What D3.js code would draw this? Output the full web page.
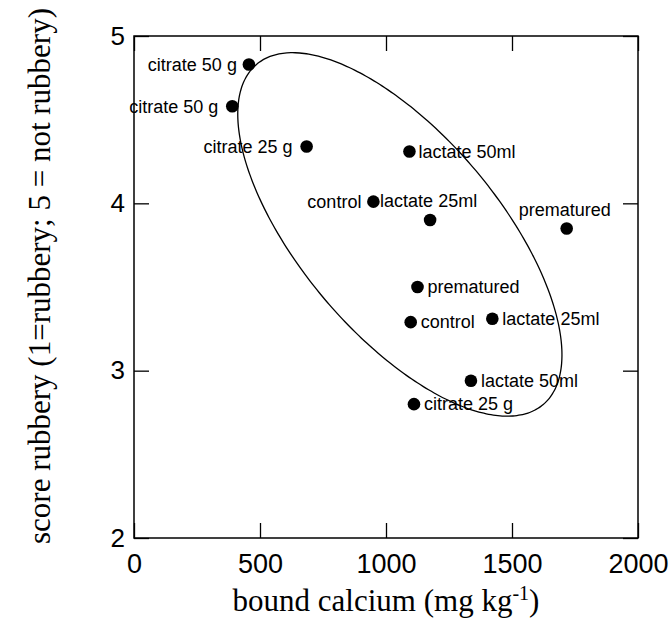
<!DOCTYPE html>
<html>
<head>
<meta charset="utf-8">
<script src="https://cdn.jsdelivr.net/npm/d3@7"></script>
<style>
	body { margin: 0; background: #fff; }
	svg { display: block; }
</style>
</head>
<body>
<svg id="rubbery" width="672" height="619"></svg>
<script>

// data
const treatment = ["citrate 50 g", "citrate 50 g", "citrate 25 g", "control", "lactate 50ml", "lactate 25ml",
	"prematured", "prematured", "control", "lactate 25ml", "lactate 50ml", "citrate 25 g"];
const bound_calcium = [456, 390, 685, 950, 1093, 1175, 1717, 1125, 1098, 1422, 1337, 1111];
const score_rubbery = [4.83, 4.58, 4.34, 4.01, 4.31, 3.90, 3.85, 3.50, 3.29, 3.31, 2.94, 2.80];

const x_ticks = [0, 500, 1000, 1500, 2000];
const y_ticks = [2, 3, 4, 5];

// ellipse in data units: centre and two conjugate semi-axes
const ellipse_center = [1055, 3.814];
const ellipse_major = [569, -1.016];
const ellipse_minor = [-300, -0.384];

// where each label sits relative to its dot
const label_place = [
	["end", -12, 0], ["end", -14, 0], ["end", -14, 0], ["end", -12, 0],
	["start", 9, 0], ["start", -50, -19], ["middle", -2, -19], ["start", 10, 0],
	["start", 10, 0], ["start", 10, 0], ["start", 10, 0], ["start", 10, 0]
];

const svg = d3.select("#rubbery");
const margin = {top: 36, left: 134, right: 34, bottom: 81};
const width = 672 - margin.left - margin.right;
const height = 619 - margin.top - margin.bottom;

const x = d3.scaleLinear().domain([0, 2000]).range([0, width]);
const y = d3.scaleLinear().domain([2, 5]).range([height, 0]);

const g = svg.append("g")
	.attr("transform", "translate(" + margin.left + "," + margin.top + ")");

const tick_font = "'Liberation Sans', Arial, sans-serif";
const title_font = "'Liberation Serif', 'Times New Roman', serif";

// axes with inward ticks
const xb = g.append("g")
	.attr("transform", "translate(0," + height + ")")
	.call(d3.axisBottom(x).tickValues(x_ticks).tickFormat(d3.format("d"))
		.tickSizeInner(-15).tickSizeOuter(0).tickPadding(16));
const xt = g.append("g")
	.call(d3.axisTop(x).tickValues(x_ticks).tickSizeInner(-15).tickSizeOuter(0).tickFormat(""));
const yl = g.append("g")
	.call(d3.axisLeft(y).tickValues(y_ticks).tickFormat(d3.format("d"))
		.tickSizeInner(-15).tickSizeOuter(0).tickPadding(9));
const yr = g.append("g")
	.attr("transform", "translate(" + width + ",0)")
	.call(d3.axisRight(y).tickValues(y_ticks).tickSizeInner(-15).tickSizeOuter(0).tickFormat(""));

[xb, xt, yl, yr].forEach(a => {
	a.select(".domain").remove();
	a.selectAll("line").attr("stroke", "#000").attr("stroke-width", 1.3);
	a.selectAll("text")
		.attr("fill", "#000")
		.style("font-family", tick_font);
});
xb.selectAll("text").style("font-size", "27px");
yl.selectAll("text").style("font-size", "26px");

g.append("rect")
	.attr("width", width)
	.attr("height", height)
	.attr("fill", "none")
	.attr("stroke", "#000")
	.attr("stroke-width", 1.5);

// ellipse
const ellipse_pts = d3.range(0, 360, 2).map(deg => {
	const t = deg * Math.PI / 180;
	return [
		ellipse_center[0] + Math.cos(t) * ellipse_major[0] + Math.sin(t) * ellipse_minor[0],
		ellipse_center[1] + Math.cos(t) * ellipse_major[1] + Math.sin(t) * ellipse_minor[1]
	];
});
g.append("path")
	.attr("d", d3.line().x(d => x(d[0])).y(d => y(d[1])).curve(d3.curveCardinalClosed)(ellipse_pts))
	.attr("fill", "none")
	.attr("stroke", "#000")
	.attr("stroke-width", 1.3);

// dots
const idx = d3.range(treatment.length);
g.selectAll(".dot")
	.data(idx)
	.enter().append("circle")
	.classed("dot", true)
	.attr("cx", i => x(bound_calcium[i]))
	.attr("cy", i => y(score_rubbery[i]))
	.attr("r", 6.3)
	.attr("fill", "#000");

g.selectAll(".point-label")
	.data(idx)
	.enter().append("text")
	.classed("point-label", true)
	.attr("x", i => x(bound_calcium[i]) + label_place[i][1])
	.attr("y", i => y(score_rubbery[i]) + label_place[i][2])
	.attr("dy", "0.35em")
	.attr("text-anchor", i => label_place[i][0])
	.style("font-family", tick_font)
	.style("font-size", "18px")
	.text(i => treatment[i]);

// axis titles
const xtitle = svg.append("text")
	.attr("x", margin.left + width / 2)
	.attr("y", 611)
	.attr("text-anchor", "middle")
	.style("font-family", title_font)
	.style("font-size", "31px");
xtitle.append("tspan").text("bound calcium (mg kg");
xtitle.append("tspan").attr("baseline-shift", "super").style("font-size", "20px").text("-1");
xtitle.append("tspan").text(")");

svg.append("text")
	.attr("transform", "translate(50," + 276 + ") rotate(-90)")
	.attr("text-anchor", "middle")
	.style("font-family", title_font)
	.style("font-size", "31px")
	.text("score rubbery (1=rubbery; 5 = not rubbery)");

</script>
</body>
</html>
